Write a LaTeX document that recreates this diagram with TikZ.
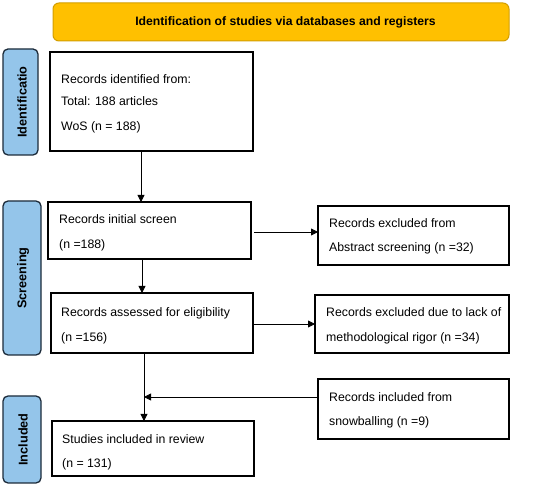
\documentclass[tikz,border=0pt]{standalone}
\usepackage{fontspec}
\setmainfont{Liberation Sans}
\usetikzlibrary{arrows.meta}
\definecolor{hdrfill}{HTML}{FFC000}
\definecolor{hdrline}{HTML}{D39E00}
\definecolor{sidefill}{HTML}{94C5EA}
\definecolor{sideline}{HTML}{1C2B3A}
\begin{document}
\begin{tikzpicture}[x=1pt,y=-1pt,
  box/.style={draw=black,line width=1.1pt,fill=white},
  side/.style={draw=sideline,fill=sidefill,line width=1.3pt,rounded corners=5pt},
  sidetxt/.style={rotate=90,font=\fontsize{12.7}{14}\selectfont\bfseries},
  txt/.style={anchor=base west,font=\fontsize{12.3}{14}\selectfont,inner sep=0pt},
  arr/.style={-{Triangle[length=7pt,width=7pt]},line width=0.8pt}]
\useasboundingbox (0,0) rectangle (550,486);
% header
\draw[fill=hdrfill,draw=hdrline,line width=1pt,rounded corners=6pt] (53,3) rectangle (509,41);
\node[font=\fontsize{12.2}{14}\selectfont\bfseries] (hdr) at (285.5,22.5) {Identification of studies via databases and registers};
% side labels
\draw[side] (3,49) rectangle (38,155);
\node[sidetxt] (sid) at (22,102) {Identificatio};
\draw[side] (3,201) rectangle (41,355);
\node[sidetxt] (sscr) at (23,278) {Screening};
\draw[side] (3,396) rectangle (41,483);
\node[sidetxt] (sinc) at (23,439.5) {Included};
% boxes
\draw[box] (50,52) rectangle (253,151);
\coordinate (b1s) at (141,151);
\node[txt] (t1a) at (61,83.5) {Records identified from:};
\node[txt] (t1b) at (61,105.5) {Total: 188 articles};
\node[txt] (t1c) at (61,130.5) {WoS (n = 188)};

\draw[box] (48,202) rectangle (251,259);
\coordinate (b2n) at (141,202);
\coordinate (b2s) at (142,259);
\coordinate (b2e) at (254,232);
\node[txt] (t2a) at (59,223.5) {Records initial screen};
\node[txt] (t2b) at (59,248.5) {(n =188)};

\draw[box] (318,206) rectangle (509,265);
\coordinate (e1w) at (318,232);
\node[txt] (te1a) at (329,227.5) {Records excluded from};
\node[txt] (te1b) at (329,251.5) {Abstract screening (n =32)};

\draw[box] (51,293) rectangle (253,353);
\coordinate (b3n) at (142,293);
\coordinate (b3s) at (144,353);
\coordinate (b3e) at (253,324);
\node[txt] (t3a) at (61,316.5) {Records assessed for eligibility};
\node[txt] (t3b) at (61,341.5) {(n =156)};

\draw[box] (315,295) rectangle (509,353);
\coordinate (e2w) at (315,324);
\node[txt] (te2a) at (326,316.5) {Records excluded due to lack of};
\node[txt] (te2b) at (326,341.5) {methodological rigor (n =34)};

\draw[box] (318,379) rectangle (509,439);
\coordinate (snw) at (318,397);
\node[txt] (tsa) at (329,401.5) {Records included from};
\node[txt] (tsb) at (329,425.5) {snowballing (n =9)};

\draw[box] (52,421) rectangle (254,476);
\coordinate (b4n) at (144,421);
\coordinate (join) at (144,397);
\node[txt] (t4a) at (62,443.5) {Studies included in review};
\node[txt] (t4b) at (62,467.5) {(n = 131)};

% connectors
\draw[arr] (b1s) -- (b2n);
\draw[arr] (b2s) -- (b3n);
\draw[arr] (b2e) -- (e1w);
\draw[arr] (b3e) -- (e2w);
\draw[arr] (b3s) -- (b4n);
\draw[arr] (snw) -- (join);
\end{tikzpicture}
\end{document}
